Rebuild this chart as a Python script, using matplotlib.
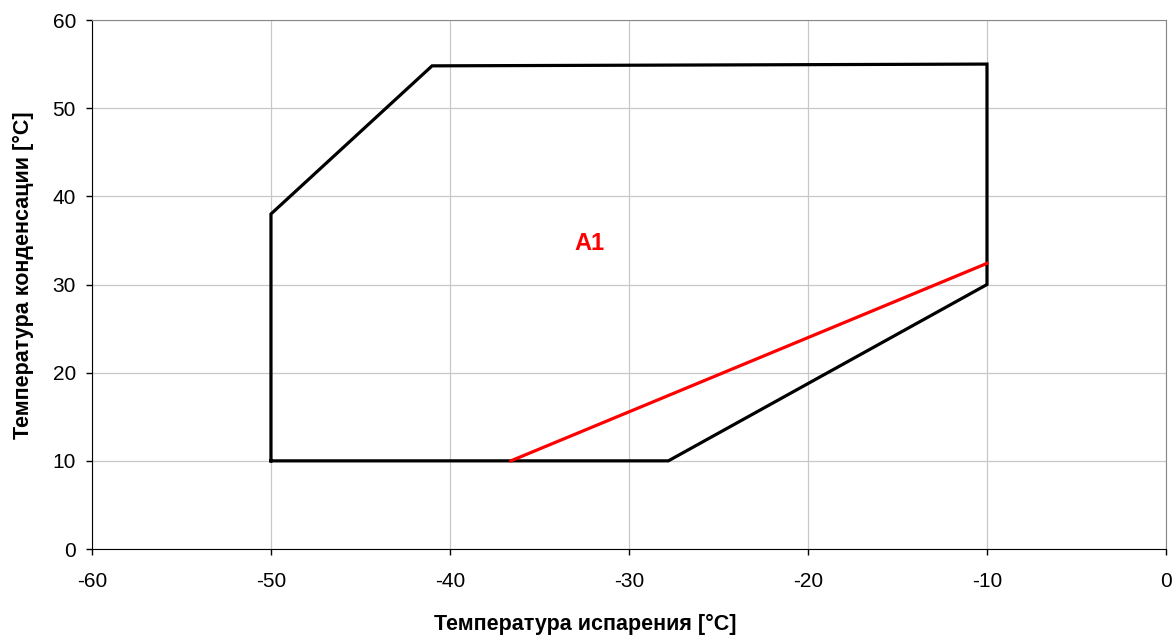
import numpy as np
import matplotlib
matplotlib.use('Agg')
import matplotlib.pyplot as plt

plt.rcParams['font.family'] = ['Liberation Sans', 'DejaVu Sans']
plt.rcParams['axes.unicode_minus'] = False

# envelope of the operating range
env_x = [-50, -50, -41, -10, -10, -27.8, -50]
env_y = [10, 38, 54.8, 55, 30, 10, 10]

# red limit line
lim_x = [-36.6, -10]
lim_y = [10, 32.4]

fig = plt.figure(figsize=(11.76, 6.35), dpi=100)
ax = fig.add_axes([0.0782, 0.1354, 0.9133, 0.8331])

ax.plot(env_x, env_y, color='black', lw=2.3, solid_joinstyle='miter', zorder=3)
ax.plot(lim_x, lim_y, color='red', lw=2.3, zorder=4)
ax.text(-32.2, 34.7, 'A1', color='red', fontsize=17, fontweight='bold', ha='center', va='center')

ax.set_xlim(-60, 0)
ax.set_ylim(0, 60)
ax.set_xticks(np.arange(-60, 1, 10))
ax.set_yticks(np.arange(0, 61, 10))
ax.grid(True, color='#c8c8c8', lw=0.9)
ax.set_axisbelow(True)
ax.tick_params(labelsize=15, length=4.5, width=1, direction='out')
ax.tick_params(axis='x', pad=12)
ax.tick_params(axis='y', pad=7)
ax.spines['top'].set_color('#888888')
ax.spines['right'].set_color('#888888')
ax.set_xlabel('Температура испарения [°C]', fontsize=15.5, fontweight='bold')
ax.set_ylabel('Температура конденсации [°C]', fontsize=15.5, fontweight='bold')
ax.xaxis.set_label_coords(0.459, -0.122)
ax.yaxis.set_label_coords(-0.054, 0.518)

fig.savefig('out.png', dpi=100)
